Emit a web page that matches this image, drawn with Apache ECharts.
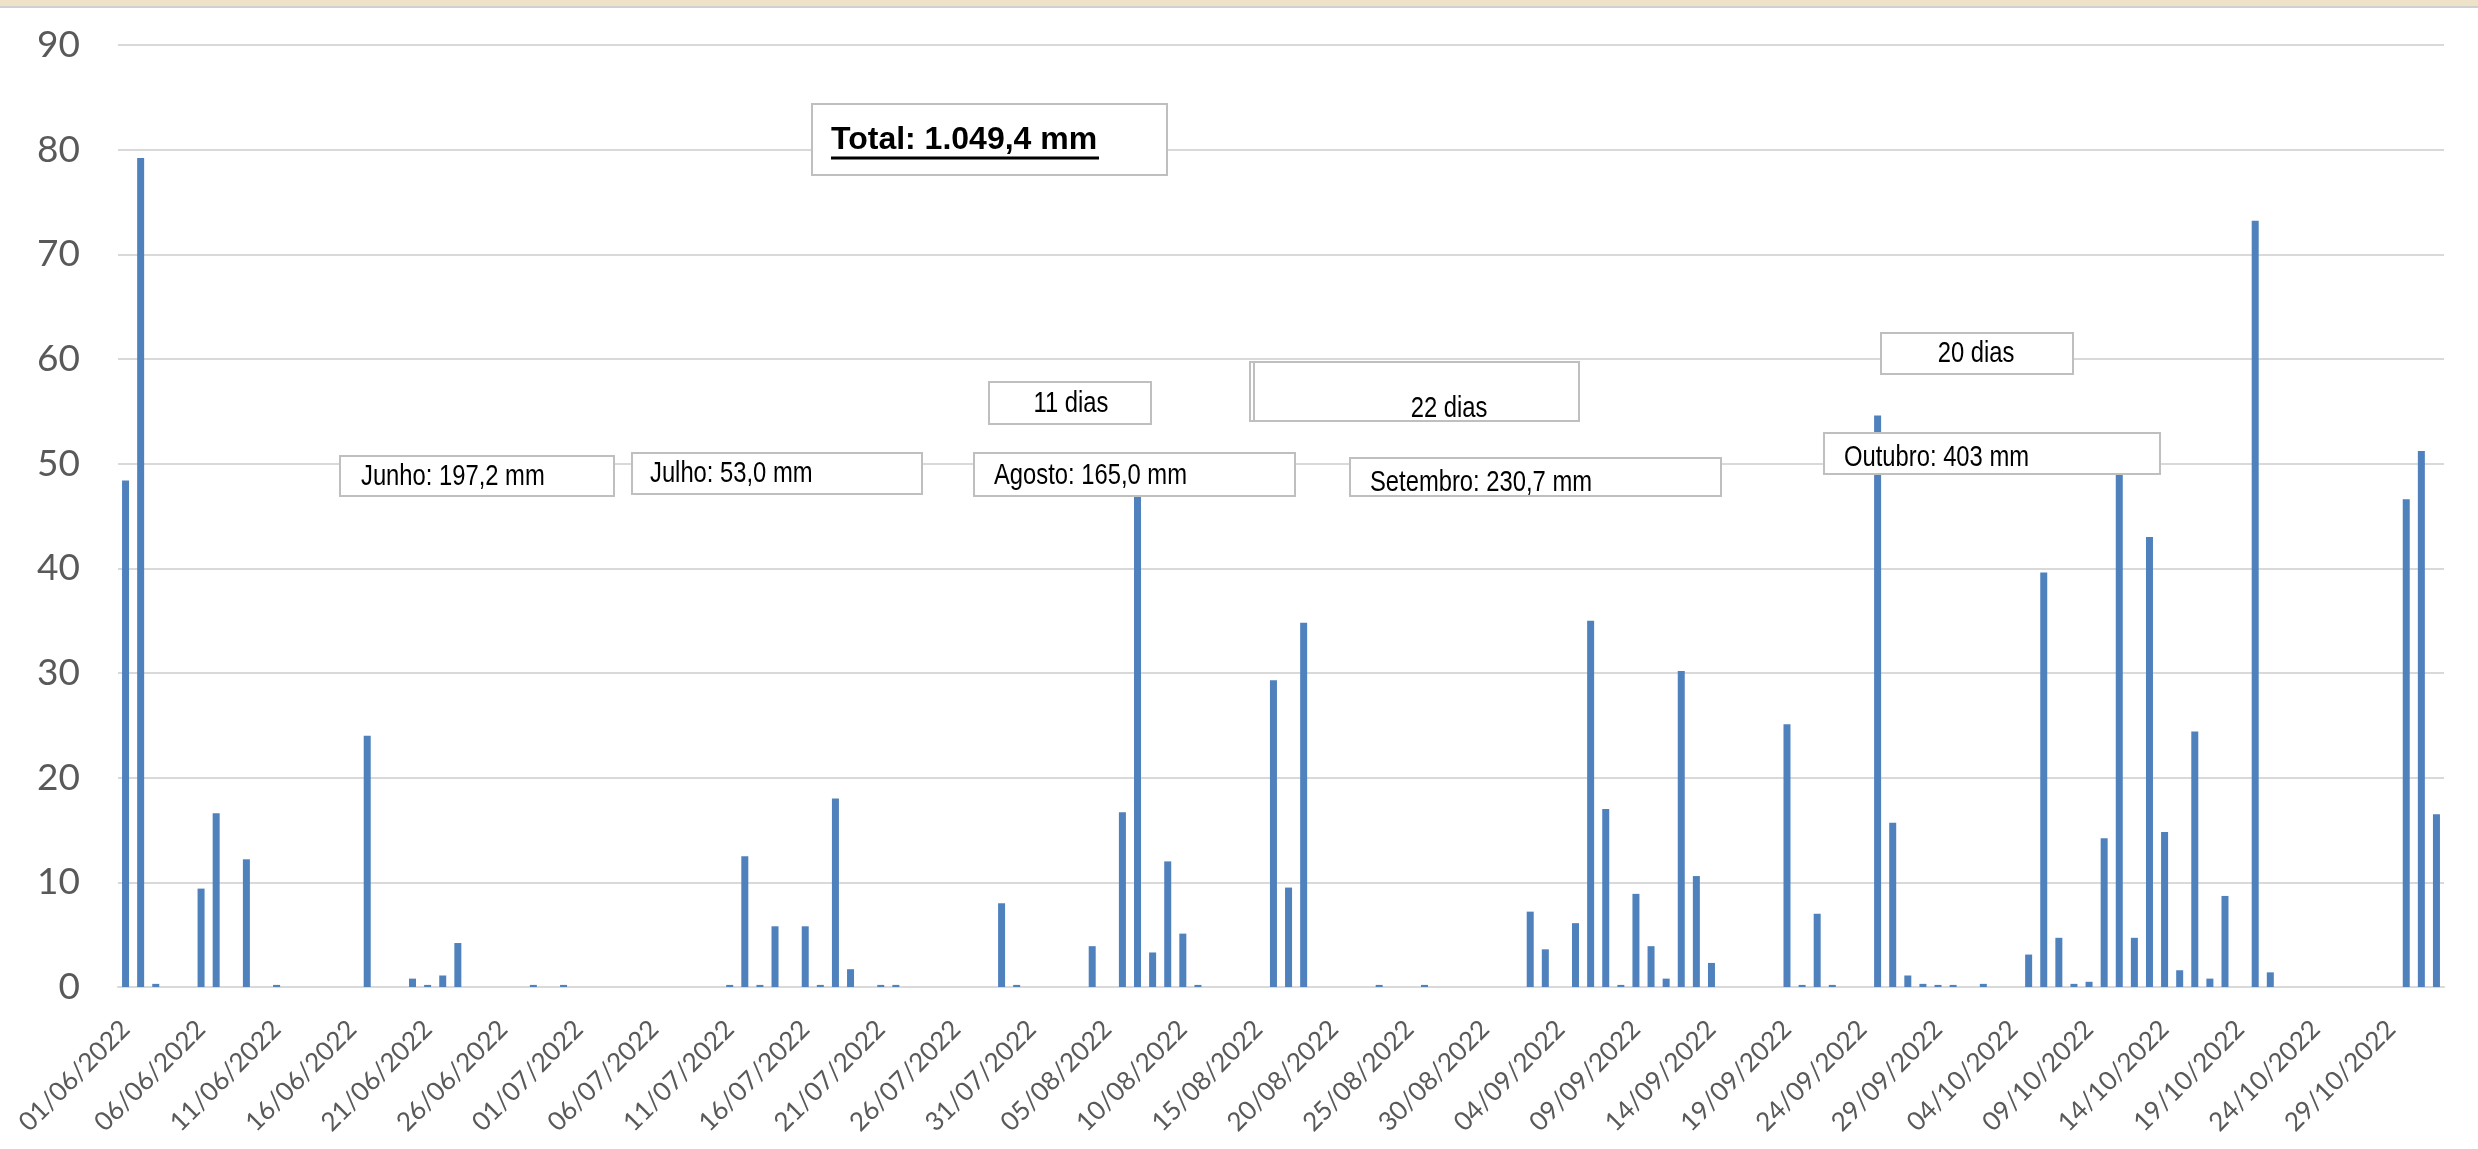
<!DOCTYPE html>
<html>
<head>
<meta charset="utf-8">
<script src="https://cdn.jsdelivr.net/npm/echarts@6/dist/echarts.min.js"></script>
<style>
  html, body { margin: 0; padding: 0; background: #fff; }
  #chart { width: 2478px; height: 1149px; }
</style>
</head>
<body>
<div id="chart"></div>
<script>
// chuva diaria (mm), 01/06/2022 a 01/11/2022
const junho = [48.4, 79.2, 0.3, 0, 0, 9.4, 16.6, 0, 12.2, 0,
  0.2, 0, 0, 0, 0, 0, 24.0, 0, 0, 0.8,
  0.2, 1.1, 4.2, 0, 0, 0, 0, 0.2, 0, 0.2];
const julho = [0, 0, 0, 0, 0, 0, 0, 0, 0, 0,
  0.2, 12.5, 0.2, 5.8, 0, 5.8, 0.2, 18.0, 1.7, 0,
  0.2, 0.2, 0, 0, 0, 0, 0, 0, 8.0, 0.2, 0];
const agosto = [0, 0, 0, 3.9, 0, 16.7, 49.8, 3.3, 12.0, 5.1,
  0.2, 0, 0, 0, 0, 29.3, 9.5, 34.8, 0, 0,
  0, 0, 0.2, 0, 0, 0.2, 0, 0, 0, 0, 0];
const setembro = [0, 7.2, 3.6, 0, 6.1, 35.0, 17.0, 0.2, 8.9, 3.9,
  0.8, 30.2, 10.6, 2.3, 0, 0, 0, 0, 25.1, 0.2,
  7.0, 0.2, 0, 0, 54.6, 15.7, 1.1, 0.3, 0.2, 0.2];
const outubro = [0, 0.3, 0, 0, 3.1, 39.6, 4.7, 0.3, 0.5, 14.2,
  49.5, 4.7, 43.0, 14.8, 1.6, 24.4, 0.8, 8.7, 0, 73.2,
  1.4, 0, 0, 0, 0, 0, 0, 0, 0, 46.6, 51.2];
const novembro = [16.5];

const datasJun = ["01/06/2022","02/06/2022","03/06/2022","04/06/2022","05/06/2022","06/06/2022","07/06/2022","08/06/2022","09/06/2022","10/06/2022",
  "11/06/2022","12/06/2022","13/06/2022","14/06/2022","15/06/2022","16/06/2022","17/06/2022","18/06/2022","19/06/2022","20/06/2022",
  "21/06/2022","22/06/2022","23/06/2022","24/06/2022","25/06/2022","26/06/2022","27/06/2022","28/06/2022","29/06/2022","30/06/2022"];
const datasJul = ["01/07/2022","02/07/2022","03/07/2022","04/07/2022","05/07/2022","06/07/2022","07/07/2022","08/07/2022","09/07/2022","10/07/2022",
  "11/07/2022","12/07/2022","13/07/2022","14/07/2022","15/07/2022","16/07/2022","17/07/2022","18/07/2022","19/07/2022","20/07/2022",
  "21/07/2022","22/07/2022","23/07/2022","24/07/2022","25/07/2022","26/07/2022","27/07/2022","28/07/2022","29/07/2022","30/07/2022","31/07/2022"];
const datasAgo = ["01/08/2022","02/08/2022","03/08/2022","04/08/2022","05/08/2022","06/08/2022","07/08/2022","08/08/2022","09/08/2022","10/08/2022",
  "11/08/2022","12/08/2022","13/08/2022","14/08/2022","15/08/2022","16/08/2022","17/08/2022","18/08/2022","19/08/2022","20/08/2022",
  "21/08/2022","22/08/2022","23/08/2022","24/08/2022","25/08/2022","26/08/2022","27/08/2022","28/08/2022","29/08/2022","30/08/2022","31/08/2022"];
const datasSet = ["01/09/2022","02/09/2022","03/09/2022","04/09/2022","05/09/2022","06/09/2022","07/09/2022","08/09/2022","09/09/2022","10/09/2022",
  "11/09/2022","12/09/2022","13/09/2022","14/09/2022","15/09/2022","16/09/2022","17/09/2022","18/09/2022","19/09/2022","20/09/2022",
  "21/09/2022","22/09/2022","23/09/2022","24/09/2022","25/09/2022","26/09/2022","27/09/2022","28/09/2022","29/09/2022","30/09/2022"];
const datasOut = ["01/10/2022","02/10/2022","03/10/2022","04/10/2022","05/10/2022","06/10/2022","07/10/2022","08/10/2022","09/10/2022","10/10/2022",
  "11/10/2022","12/10/2022","13/10/2022","14/10/2022","15/10/2022","16/10/2022","17/10/2022","18/10/2022","19/10/2022","20/10/2022",
  "21/10/2022","22/10/2022","23/10/2022","24/10/2022","25/10/2022","26/10/2022","27/10/2022","28/10/2022","29/10/2022","30/10/2022","31/10/2022"];
const datasNov = ["01/11/2022"];

const textoTotal = "Total: 1.049,4 mm";
const textosMes = ["Junho: 197,2 mm", "Julho: 53,0 mm", "Agosto: 165,0 mm", "Setembro: 230,7 mm", "Outubro: 403 mm"];
const textosDias = ["11 dias", "22 dias", "20 dias"];

const datas = datasJun.concat(datasJul, datasAgo, datasSet, datasOut, datasNov);
const chuva = junho.concat(julho, agosto, setembro, outubro, novembro);

// Arial Narrow nao existe aqui: Liberation Sans comprimida na horizontal
const fonteCaixa = '29px "Liberation Sans", Arial, sans-serif';
const borda = { fill: "#fff", stroke: "#bfbfbf", lineWidth: 2 };

function caixa(x, y, w, h) {
  return { type: "rect", z: 100, shape: { x: x, y: y, width: w, height: h }, style: borda };
}
function texto(x, y, t, align) {
  return {
    type: "text", z: 101, x: x, y: y, scaleX: 0.82,
    style: { text: t, font: fonteCaixa, fill: "#000", align: align || "left", verticalAlign: "middle" },
  };
}

const chart = echarts.init(document.getElementById("chart"));
chart.setOption({
  animation: false,
  backgroundColor: "#fff",
  grid: { left: 118, right: 34, top: 45, bottom: 162 },
  xAxis: {
    type: "category",
    data: datas,
    axisTick: { show: false },
    axisLine: { lineStyle: { color: "#d9d9d9", width: 2 } },
    axisLabel: {
      interval: 4,
      rotate: 45,
      margin: 38,
      fontSize: 26,
      fontFamily: "Lato",
      color: "#595959",
    },
  },
  yAxis: {
    type: "value",
    min: 0,
    max: 90,
    interval: 10,
    axisLine: { show: false },
    axisTick: { show: false },
    splitLine: { lineStyle: { color: "#d9d9d9", width: 2 } },
    axisLabel: { fontSize: 37, fontFamily: "Lato", color: "#595959", margin: 38 },
  },
  series: [
    {
      type: "bar",
      data: chuva,
      barWidth: 7,
      itemStyle: { color: "#4f81bd" },
    },
  ],
  graphic: [
    // faixa do topo
    { type: "rect", z: 100, shape: { x: 0, y: 0, width: 2478, height: 6 }, style: { fill: "#eee3c8" } },
    { type: "line", z: 100, shape: { x1: 0, y1: 7, x2: 2478, y2: 7 }, style: { stroke: "#d0d0d0", lineWidth: 2 } },
    // total
    caixa(812, 104, 355, 71),
    {
      type: "text", z: 101, x: 831, y: 140,
      style: { text: textoTotal, font: 'bold 32px "Liberation Sans", Arial, sans-serif', fill: "#000", verticalAlign: "middle" },
    },
    { type: "line", z: 101, shape: { x1: 831, y1: 158, x2: 1099, y2: 158 }, style: { stroke: "#000", lineWidth: 3 } },
    // meses
    caixa(340, 456, 274, 40), texto(361, 477, textosMes[0]),
    caixa(632, 453, 290, 41), texto(650, 474, textosMes[1]),
    caixa(974, 453, 321, 43), texto(994, 476, textosMes[2]),
    caixa(1350, 458, 371, 38), texto(1370, 483, textosMes[3]),
    caixa(1824, 433, 336, 41), texto(1844, 458, textosMes[4]),
    // dias
    caixa(989, 382, 162, 42), texto(1071, 404, textosDias[0], "center"),
    caixa(1250, 362, 329, 59),
    { type: "line", z: 101, shape: { x1: 1254, y1: 362, x2: 1254, y2: 421 }, style: { stroke: "#bfbfbf", lineWidth: 2 } },
    texto(1449, 409, textosDias[1], "center"),
    caixa(1881, 333, 192, 41), texto(1976, 354, textosDias[2], "center"),
  ],
});
</script>
</body>
</html>
